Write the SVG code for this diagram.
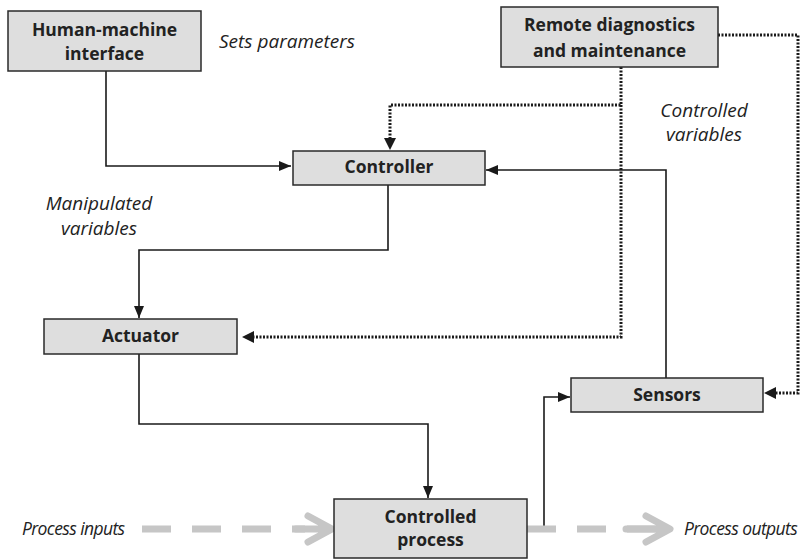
<svg xmlns="http://www.w3.org/2000/svg" width="806" height="559" viewBox="0 0 806 559">
<defs>
<marker id="ah" viewBox="0 0 12 10" refX="12" refY="5" markerWidth="12" markerHeight="10" markerUnits="userSpaceOnUse" orient="auto">
<path d="M0,0 L12,5 L0,10 Z" fill="#1a1a1a"/>
</marker>
</defs>
<style>
.box{fill:#dedede;stroke:#2a2a2a;stroke-width:1.5}
.bt{font-family:"Open Sans","Liberation Sans",sans-serif;font-weight:bold;font-size:17.5px;fill:#222;text-anchor:middle}
.it{font-family:"Open Sans","Liberation Sans",sans-serif;font-style:italic;font-size:19px;fill:#222}
.pt{font-family:"Open Sans","Liberation Sans",sans-serif;font-style:italic;font-size:17.5px;letter-spacing:-0.6px;fill:#222}
.ln{fill:none;stroke:#1a1a1a;stroke-width:1.6}
.dot{fill:none;stroke:#1a1a1a;stroke-width:3;stroke-dasharray:2 1.5}
.gd{fill:none;stroke:#c6c6c6;stroke-width:7;stroke-dasharray:29 21}
.gc{fill:none;stroke:#c6c6c6;stroke-width:7;stroke-linecap:round;stroke-linejoin:round}
</style>
<rect width="806" height="559" fill="#fff"/>
<g id="connectors">
<path class="ln" d="M106,71 V166 H291" marker-end="url(#ah)"/>
<path class="ln" d="M388,185 V250 H139 V318" marker-end="url(#ah)"/>
<path class="ln" d="M139,354 V424 H428 V498" marker-end="url(#ah)"/>
<path class="ln" d="M544,527 V397 H570" marker-end="url(#ah)"/>
<path class="ln" d="M666,378 V170 H486" marker-end="url(#ah)"/>
<path class="dot" d="M621,67 V105 H390 V140"/>
<path d="M384,138 L390,150 L396,138 Z" fill="#1a1a1a"/>
<path class="dot" d="M621,105 V337 H252"/>
<path d="M254,331 L242,337 L254,343 Z" fill="#1a1a1a"/>
<path class="dot" d="M718,35 H798 V393 H775"/>
<path d="M776,387 L764,393 L776,399 Z" fill="#1a1a1a"/>
<path class="gd" d="M142,529 H305"/>
<path class="gc" d="M308,516 L332,529 L308,542 M296,529 H330"/>
<path class="gd" d="M527,529 H660"/>
<path class="gc" d="M646,516 L670,529 L646,542 M626,529 H668"/>
</g>
<g id="hmi">
<rect class="box" x="8" y="11" width="193" height="60"/>
<text class="bt" x="104.5" y="36">Human-machine</text>
<text class="bt" x="104.5" y="60">interface</text>
</g>
<g id="remote">
<rect class="box" x="501" y="7" width="217" height="60"/>
<text class="bt" x="609.5" y="31">Remote diagnostics</text>
<text class="bt" x="609.5" y="57">and maintenance</text>
</g>
<g id="controller">
<rect class="box" x="293" y="151" width="192" height="34"/>
<text class="bt" x="389" y="173">Controller</text>
</g>
<g id="actuator">
<rect class="box" x="44" y="319" width="193" height="35"/>
<text class="bt" x="140.5" y="342">Actuator</text>
</g>
<g id="sensors">
<rect class="box" x="571" y="378" width="192" height="34"/>
<text class="bt" x="667" y="401">Sensors</text>
</g>
<g id="process">
<rect class="box" x="334" y="499" width="193" height="59"/>
<text class="bt" x="430.5" y="523">Controlled</text>
<text class="bt" x="430.5" y="546">process</text>
</g>
<g id="labels">
<text class="it" x="219" y="48">Sets parameters</text>
<text class="it" x="99" y="210" text-anchor="middle">Manipulated</text>
<text class="it" x="99" y="235" text-anchor="middle">variables</text>
<text class="it" x="704" y="117" text-anchor="middle">Controlled</text>
<text class="it" x="704" y="141" text-anchor="middle">variables</text>
<text class="pt" x="22" y="535">Process inputs</text>
<text class="pt" x="684" y="535">Process outputs</text>
</g>
</svg>
